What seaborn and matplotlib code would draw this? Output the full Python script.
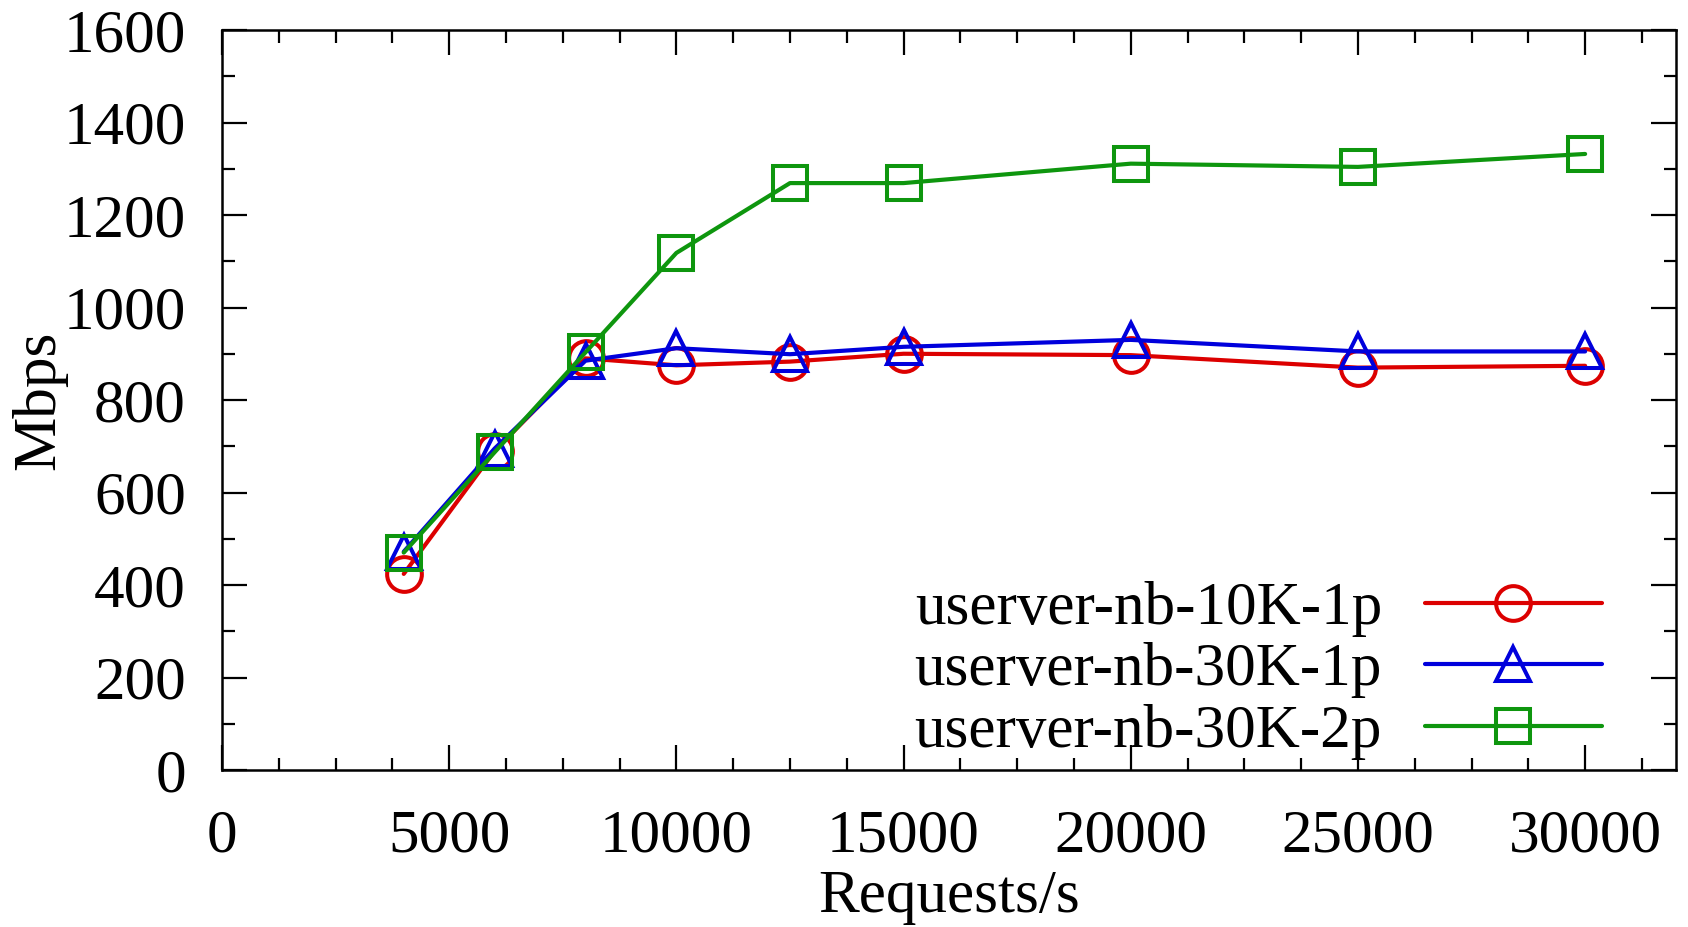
import matplotlib
matplotlib.use("Agg")
import matplotlib.pyplot as plt
import seaborn as sns
import pandas as pd
from matplotlib.ticker import MultipleLocator

requests = [4000, 6000, 8000, 10000, 12500, 15000, 20000, 25000, 30000]
mbps_10k_1p = [424, 690, 890, 875, 883, 900, 897, 870, 874]
mbps_30k_1p = [472, 695, 885, 912, 899, 915, 930, 905, 905]
mbps_30k_2p = [470, 687, 903, 1118, 1269, 1269, 1311, 1304, 1332]
labels = ["userver-nb-10K-1p", "userver-nb-30K-1p", "userver-nb-30K-2p"]

sns.set_theme(style="ticks")
plt.rcParams["font.family"] = ["Liberation Serif", "DejaVu Serif"]
plt.rcParams["text.color"] = "black"
plt.rcParams["axes.labelcolor"] = "black"
plt.rcParams["xtick.color"] = "black"
plt.rcParams["ytick.color"] = "black"

W, H = 1688, 927
L, R, B, T = 222, 1676, 770, 30
fig = plt.figure(figsize=(W / 100, H / 100), dpi=100)
ax = fig.add_axes([L / W, 1 - B / H, (R - L) / W, (B - T) / H])

series = [mbps_10k_1p, mbps_30k_1p, mbps_30k_2p]
colors = ["#dc0000", "#0000dc", "#0e960e"]
markers = ["o", "^", "s"]
msizes = [25, 25, 25]

for vals, lab, col, mk, ms in zip(series, labels, colors, markers, msizes):
    df = pd.DataFrame({"Requests/s": requests, "Mbps": vals})
    sns.lineplot(data=df, x="Requests/s", y="Mbps", ax=ax, color=col,
                 marker=mk, markersize=ms, mfc="none", mec=col, mew=2.9,
                 linewidth=3.0, label=lab)

ax.set_xlim(0, 32000)
ax.set_ylim(0, 1600)
ax.xaxis.set_major_locator(MultipleLocator(5000))
ax.xaxis.set_minor_locator(MultipleLocator(1250))
ax.yaxis.set_major_locator(MultipleLocator(200))
ax.yaxis.set_minor_locator(MultipleLocator(100))
ax.tick_params(which="both", direction="in", top=True, right=True,
               color="black", width=1.6)
ax.tick_params(which="major", length=18, labelsize=44)
ax.tick_params(axis="x", which="major", pad=28)
ax.tick_params(axis="y", which="major", pad=26)
ax.tick_params(which="minor", length=9)
for sp in ax.spines.values():
    sp.set_color("black")
    sp.set_linewidth(1.8)

ax.set_xlabel("Requests/s", fontsize=44, labelpad=4)
ax.set_ylabel("Mbps", fontsize=44, labelpad=-3)

x_anchor = 1 - (R - 1602) / (R - L)
y_anchor = (B - 760) / (B - T)
ax.legend(loc="lower right", bbox_to_anchor=(x_anchor, y_anchor),
          frameon=False, markerfirst=False, fontsize=44, handlelength=2.9,
          labelspacing=0.09, borderaxespad=0, borderpad=0, handletextpad=0.7)

fig.savefig("out.png", dpi=100)
